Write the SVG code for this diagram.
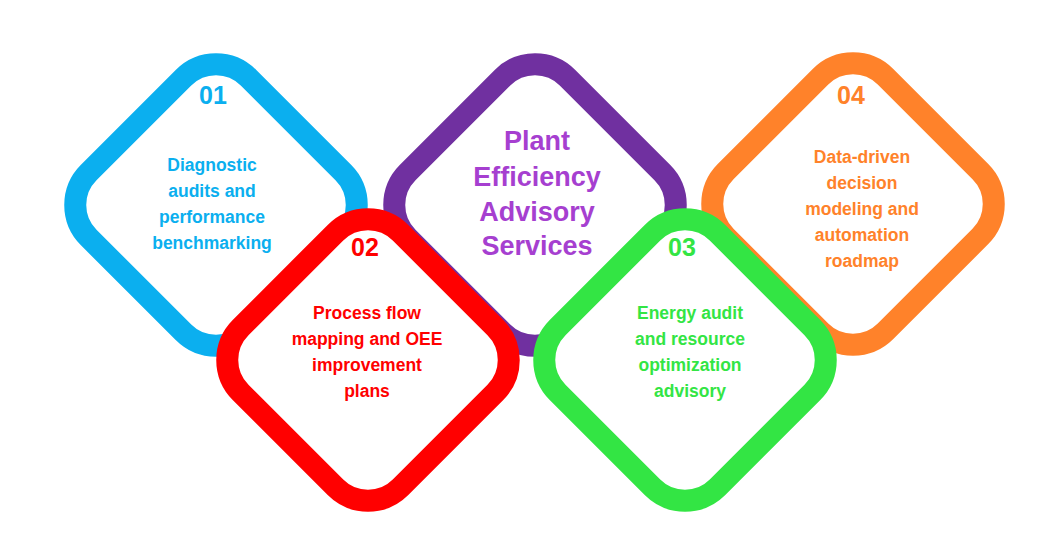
<svg xmlns="http://www.w3.org/2000/svg" width="1041" height="546" viewBox="0 0 1041 546">
<style>
.d{fill:#fff;stroke-width:22}
.t{font-family:"Liberation Sans",Arial,sans-serif;font-weight:bold;font-size:17.5px;text-anchor:middle}
.n{font-family:"Liberation Sans",Arial,sans-serif;font-weight:bold;font-size:25px;text-anchor:middle}
</style>
<defs>
<rect id="dm" x="-113" y="-113" width="226" height="226" rx="46" transform="rotate(45)"/>
</defs>
<rect width="1041" height="546" fill="#fff"/>
<g id="blue"><use href="#dm" x="216" y="205" class="d" stroke="#0BAFEF"/>
<text class="n" x="213" y="104" fill="#0BAFEF">01</text>
<text class="t" fill="#0BAFEF"><tspan x="212" y="171">Diagnostic</tspan><tspan x="212" y="197">audits and</tspan><tspan x="212" y="223">performance</tspan><tspan x="212" y="249">benchmarking</tspan></text></g>
<g id="purple"><use href="#dm" x="535" y="205" class="d" stroke="#7030A0"/>
<text class="n" fill="#A63FD0" style="font-size:27px"><tspan x="537" y="150">Plant</tspan><tspan x="537" y="186">Efficiency</tspan><tspan x="537" y="221">Advisory</tspan><tspan x="537" y="255">Services</tspan></text></g>
<g id="orange"><use href="#dm" x="853" y="204" class="d" stroke="#FF822A"/>
<text class="n" x="851" y="104" fill="#FF822A">04</text>
<text class="t" fill="#FF822A"><tspan x="862" y="163">Data-driven</tspan><tspan x="862" y="189">decision</tspan><tspan x="862" y="215">modeling and</tspan><tspan x="862" y="241">automation</tspan><tspan x="862" y="267">roadmap</tspan></text></g>
<g id="red"><use href="#dm" x="368" y="360" class="d" stroke="#FF0000"/>
<text class="n" x="365" y="256" fill="#FF0000">02</text>
<text class="t" fill="#FF0000"><tspan x="367" y="319">Process flow</tspan><tspan x="367" y="345">mapping and OEE</tspan><tspan x="367" y="371">improvement</tspan><tspan x="367" y="397">plans</tspan></text></g>
<g id="green"><use href="#dm" x="685" y="360" class="d" stroke="#33E544"/>
<text class="n" x="682" y="256" fill="#33E544">03</text>
<text class="t" fill="#33E544"><tspan x="690" y="319">Energy audit</tspan><tspan x="690" y="345">and resource</tspan><tspan x="690" y="371">optimization</tspan><tspan x="690" y="397">advisory</tspan></text></g>
<g id="connectors"/>
</svg>
